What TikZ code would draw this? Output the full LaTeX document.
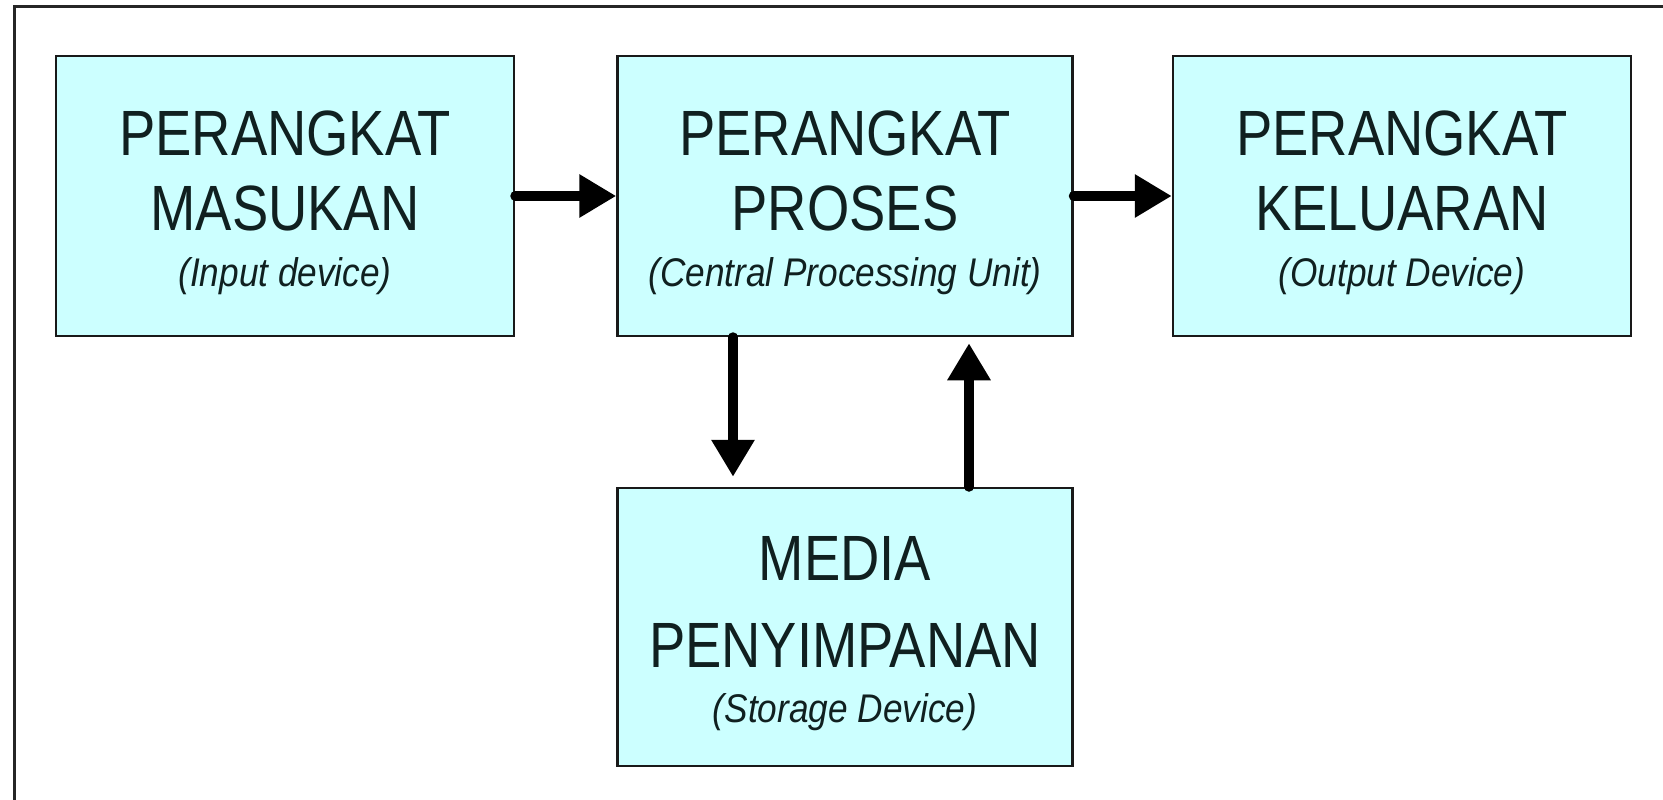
\documentclass[tikz,border=0pt]{standalone}
\usepackage{fontspec}
\usepackage{tikz}
\usetikzlibrary{arrows.meta}
\newfontfamily\bigfont[FakeStretch=0.85]{Liberation Sans}
\newfontfamily\smallfont[FakeStretch=0.88]{Liberation Sans}
\definecolor{boxfill}{HTML}{CCFFFF}
\definecolor{inkcol}{HTML}{102020}
\newcommand{\sublbl}[1]{{\smallfont\itshape\fontsize{40}{56}\selectfont #1}}
\newcommand{\capstrut}{\rule{0pt}{58pt}}
\tikzset{
    unit/.style={draw=black!90, line width=2.5pt, fill=boxfill, text=inkcol, align=center,
        minimum width=455pt, minimum height=280pt, inner sep=0pt,
        font=\bigfont\fontsize{64}{75}\selectfont},
    flow/.style={line width=10pt, line cap=round, -{Triangle[length=37pt,width=41pt]}}
}

\begin{document}
\begin{tikzpicture}[x=1pt, y=-1pt]
            \useasboundingbox (0,0) rectangle (1663,800);
            \draw[line width=3pt, black!85] (14,800) -- (14,7) -- (1663,7);
            \node[unit, minimum width=458pt] (in) at (285,196) {\capstrut PERANGKAT\\MASUKAN\\[-19pt]\sublbl{(Input device)}};
            \node[unit] (proc) at (845,196) {\capstrut PERANGKAT\\PROSES\\[-19pt]\sublbl{(Central Processing Unit)}};
            \node[unit, minimum width=458pt] (out) at (1402,196) {\capstrut PERANGKAT\\KELUARAN\\[-19pt]\sublbl{(Output Device)}};
            \node[unit, minimum height=278pt] (store) at (845,627) {\capstrut MEDIA\\[12pt]PENYIMPANAN\\[-20pt]\sublbl{(Storage Device)}};
            \draw[flow] (in) -- (proc);
            \draw[flow] (proc) -- (out);
            \draw[flow, shorten >=10pt] ([xshift=-112pt]proc.south) -- ([xshift=-112pt]store.north);
            \draw[flow, shorten >=6pt] ([xshift=124pt]store.north) -- ([xshift=124pt]proc.south);
        \end{tikzpicture}
\end{document}
